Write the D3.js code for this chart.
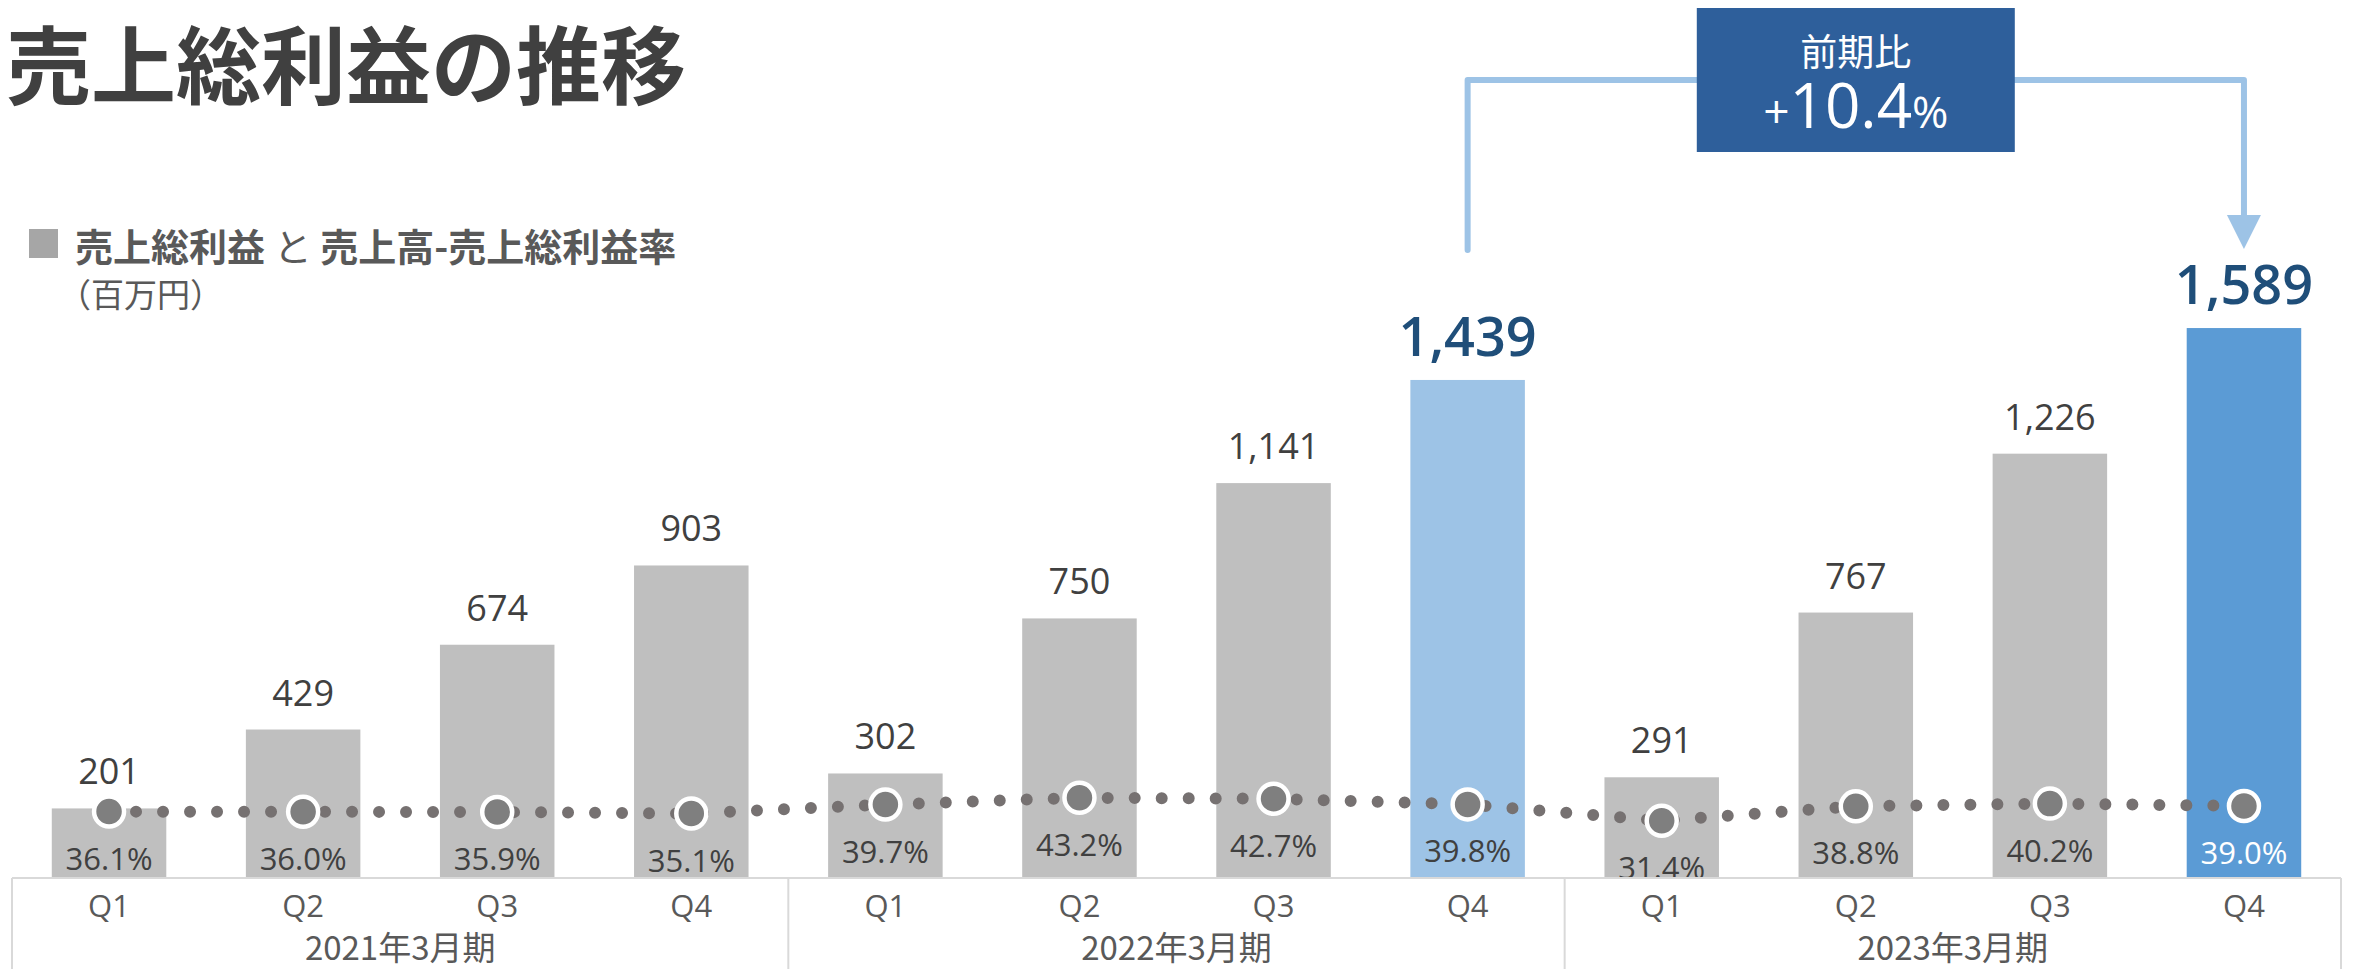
<!DOCTYPE html>
<html>
<head>
<meta charset="utf-8">
<script src="https://cdn.jsdelivr.net/npm/d3@7"></script>
<style>
  html, body { margin: 0; padding: 0; background: #fff; }
  svg { display: block; }
</style>
</head>
<body>
<div id="chart"></div>
<script>
var years = ["2021年3月期", "2022年3月期", "2023年3月期"];
var quarters = ["Q1", "Q2", "Q3", "Q4"];
var grossProfit = [201, 429, 674, 903, 302, 750, 1141, 1439, 291, 767, 1226, 1589];
var grossMargin = [36.1, 36.0, 35.9, 35.1, 39.7, 43.2, 42.7, 39.8, 31.4, 38.8, 40.2, 39.0];
var highlight = {7: "prev", 11: "curr"};
var growthLabel = {head: "前期比", sign: "+", num: "10.4", pct: "%"};

var rows = grossProfit.map((v, i) => ({
    key: i,
    year: years[Math.floor(i / 4)],
    q: quarters[i % 4],
    value: v,
    rate: grossMargin[i],
    hl: highlight[i]
}));

var width = 2357,
    height = 969,
    baseY = 878,
    left = 12,
    right = 2341;

var jp = '"Noto Sans CJK JP", "Noto Sans", sans-serif';
var num = '"Open Sans", "Noto Sans", sans-serif';

var svg = d3.select("#chart")
    .append("svg")
    .attr("width", width)
    .attr("height", height);

var x = d3.scaleBand()
    .domain(rows.map(d => d.key))
    .range([left, right])
    .paddingInner(0.41)
    .paddingOuter(0.205);
var xYear = d3.scaleBand().domain(years).range([left, right]);
var y = d3.scaleLinear().domain([0, 2000]).range([baseY, baseY - 2000 * 0.3461]);
var yRate = d3.scaleLinear().domain([0, 100]).range([882, 687]);

var cx = d => x(d.key) + x.bandwidth() / 2;

// title + legend
svg.append("text")
    .attr("x", 6).attr("y", 60)
    .attr("dominant-baseline", "central")
    .style("font-family", jp).style("font-weight", 700).style("font-size", "85px")
    .style("fill", "#404040")
    .text("売上総利益の推移");

svg.append("rect")
    .attr("x", 29).attr("y", 229).attr("width", 29).attr("height", 29)
    .style("fill", "#a6a6a6");
var leg = svg.append("text")
    .attr("x", 75).attr("y", 244)
    .attr("dominant-baseline", "central")
    .style("font-family", jp).style("font-weight", 700).style("font-size", "38px")
    .style("fill", "#595959");
leg.append("tspan").text("売上総利益 ");
leg.append("tspan").style("font-weight", 400).text("と");
leg.append("tspan").text(" 売上高-売上総利益率");
svg.append("text")
    .attr("x", 58).attr("y", 293)
    .attr("dominant-baseline", "central")
    .style("font-family", jp).style("font-size", "33px")
    .style("fill", "#595959")
    .text("（百万円）");

// bars
var barColor = d => d.hl === "curr" ? "#5b9bd5" : d.hl === "prev" ? "#9dc3e6" : "#bfbfbf";

svg.selectAll(".bar")
    .data(rows)
    .enter().append("rect")
    .attr("class", "bar")
    .attr("x", d => x(d.key))
    .attr("y", d => y(d.value))
    .attr("width", x.bandwidth())
    .attr("height", d => baseY - y(d.value))
    .style("fill", barColor);

svg.selectAll(".val")
    .data(rows)
    .enter().append("text")
    .attr("class", "val")
    .attr("x", cx)
    .attr("y", d => y(d.value) - 24)
    .attr("text-anchor", "middle")
    .style("font-family", num)
    .style("font-size", d => d.hl ? "54px" : "36px")
    .style("font-weight", d => d.hl ? 600 : 400)
    .style("fill", d => d.hl ? "#1f4e79" : "#404040")
    .text(d => d3.format(",")(d.value));

// margin line (dotted) + markers
var line = d3.line().x(cx).y(d => yRate(d.rate));

svg.append("path")
    .datum(rows)
    .attr("d", line)
    .style("fill", "none")
    .style("stroke", "#767171")
    .style("stroke-width", 12)
    .style("stroke-linecap", "round")
    .style("stroke-dasharray", "0 27");

svg.selectAll(".mk")
    .data(rows)
    .enter().append("circle")
    .attr("class", "mk")
    .attr("cx", cx)
    .attr("cy", d => yRate(d.rate))
    .attr("r", 15)
    .style("fill", "#7f7f7f")
    .style("stroke", "#fff")
    .style("stroke-width", 4.5);

svg.selectAll(".rate")
    .data(rows)
    .enter().append("text")
    .attr("class", "rate")
    .attr("x", cx)
    .attr("y", d => yRate(d.rate) + 58)
    .attr("text-anchor", "middle")
    .style("font-family", num)
    .style("font-size", "31px")
    .style("fill", d => d.hl === "curr" ? "#fff" : "#404040")
    .text(d => d.rate.toFixed(1) + "%");

// category axis box
var axis = svg.append("g").attr("class", "x axis");
axis.append("line")
    .attr("x1", left).attr("x2", right)
    .attr("y1", baseY).attr("y2", baseY)
    .style("stroke", "#d9d9d9").style("stroke-width", 2);
axis.selectAll(".sep")
    .data(years.map(yr => xYear(yr)).concat([right]))
    .enter().append("line")
    .attr("x1", d => d).attr("x2", d => d)
    .attr("y1", baseY).attr("y2", height)
    .style("stroke", "#d9d9d9").style("stroke-width", 2);
axis.selectAll(".ql")
    .data(rows)
    .enter().append("text")
    .attr("x", cx)
    .attr("y", 905)
    .attr("dominant-baseline", "central")
    .attr("text-anchor", "middle")
    .style("font-family", num).style("font-size", "31px")
    .style("fill", "#595959")
    .text(d => d.q);
axis.selectAll(".yl")
    .data(years)
    .enter().append("text")
    .attr("x", d => xYear(d) + xYear.bandwidth() / 2)
    .attr("y", 946)
    .attr("dominant-baseline", "central")
    .attr("text-anchor", "middle")
    .style("font-family", jp).style("font-size", "33px")
    .style("fill", "#595959")
    .text(d => d);

// growth callout
var a = rows[7], b = rows[11];
var topY = 80, midX = (cx(a) + cx(b)) / 2;
var callout = svg.append("g").attr("class", "callout");

callout.append("path")
    .attr("d", `M${cx(a)},250V${topY}H${cx(b)}V216`)
    .style("fill", "none")
    .style("stroke", "#9dc3e6")
    .style("stroke-width", 6)
    .style("stroke-linecap", "round")
    .style("stroke-linejoin", "round");
callout.append("path")
    .attr("d", `M${cx(b) - 17},215L${cx(b) + 17},215L${cx(b)},249Z`)
    .style("fill", "#9dc3e6");

callout.append("rect")
    .attr("x", midX - 159).attr("y", 8)
    .attr("width", 318).attr("height", 144)
    .style("fill", "#2e5f9b");
callout.append("text")
    .attr("x", midX).attr("y", 50)
    .attr("dominant-baseline", "central")
    .attr("text-anchor", "middle")
    .style("font-family", jp).style("font-size", "37px")
    .style("fill", "#fff")
    .text(growthLabel.head);
var g2 = callout.append("text")
    .attr("x", midX).attr("y", 128)
    .attr("text-anchor", "middle")
    .style("font-family", num)
    .style("fill", "#fff");
g2.append("tspan").style("font-size", "46px").text(growthLabel.sign);
g2.append("tspan").style("font-size", "62px").style("font-weight", 500).text(growthLabel.num);
g2.append("tspan").style("font-size", "44px").text(growthLabel.pct);
</script>
</body>
</html>
